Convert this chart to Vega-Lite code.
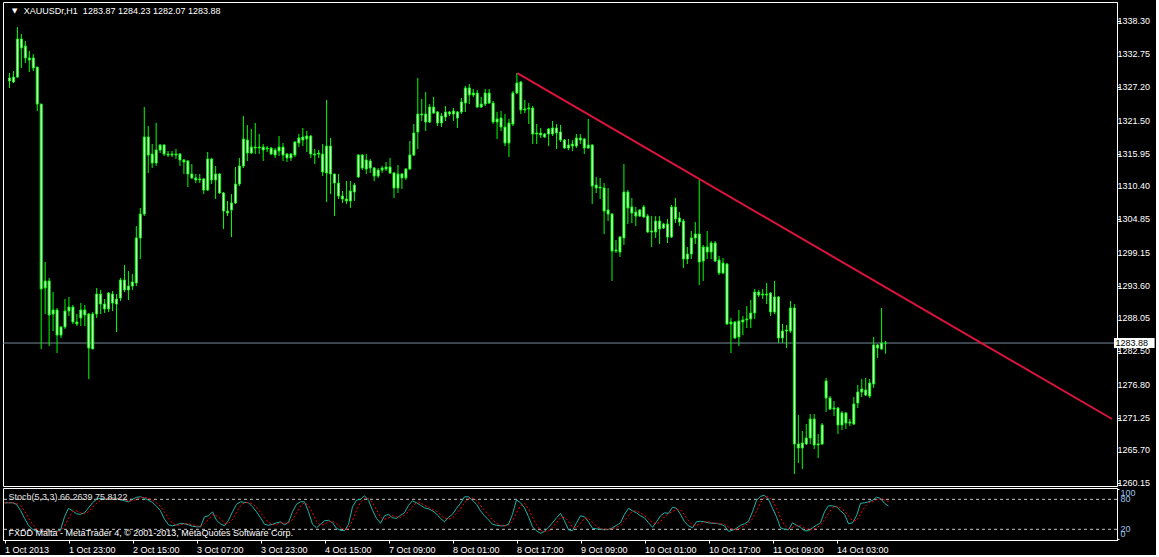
{
"$schema":"https://vega.github.io/schema/vega-lite/v6.json",
"background":"#000000",
"padding":{"left":2,"top":1,"right":0,"bottom":0},
"spacing":2,
"bounds":"flush",
"config":{
"view":{"stroke":"#ffffff","strokeWidth":1,"fill":"#000000"},
"axis":{"grid":false,"labelFont":"Liberation Sans","labelFontSize":9,"labelColor":"#ffffff","tickColor":"#ffffff","domainColor":"#ffffff","tickSize":3,"title":null},
"text":{"font":"Liberation Sans","fontSize":9}
},
"datasets":{
"one":[{}],
"pticks":[{"v":1338.30},{"v":1332.75},{"v":1327.20},{"v":1321.50},{"v":1315.95},{"v":1310.40},{"v":1304.85},{"v":1299.15},{"v":1293.60},{"v":1288.05},{"v":1282.50},{"v":1276.80},{"v":1271.25},{"v":1265.70},{"v":1260.15}],
"trend":[{"i":128.1,"p":1329.58},{"i":278.125,"p":1271.02}],
"levels":[{"lv":20},{"lv":80}],
"bars":[
{"i":0,"o":1328.74,"h":1329.58,"l":1327.05,"c":1328.23,"k":73,"d":73},
{"i":1,"o":1328.06,"h":1329.92,"l":1327.89,"c":1328.90,"k":73,"d":73},
{"i":2,"o":1328.90,"h":1337.36,"l":1328.74,"c":1335.34,"k":73,"d":73},
{"i":3,"o":1335.34,"h":1336.18,"l":1330.43,"c":1333.82,"k":70,"d":72},
{"i":4,"o":1334.15,"h":1335.00,"l":1331.27,"c":1332.13,"k":58,"d":67},
{"i":5,"o":1332.13,"h":1333.31,"l":1329.75,"c":1331.79,"k":42,"d":57},
{"i":6,"o":1332.13,"h":1332.80,"l":1329.92,"c":1330.43,"k":28,"d":43},
{"i":7,"o":1330.59,"h":1330.59,"l":1323.15,"c":1324.33,"k":20,"d":30},
{"i":8,"o":1324.33,"h":1324.33,"l":1282.87,"c":1293.03,"k":16,"d":21},
{"i":9,"o":1293.20,"h":1297.59,"l":1288.79,"c":1294.38,"k":15,"d":17},
{"i":10,"o":1294.38,"h":1294.89,"l":1283.37,"c":1288.62,"k":16,"d":16},
{"i":11,"o":1288.79,"h":1292.51,"l":1285.91,"c":1289.47,"k":17,"d":16},
{"i":12,"o":1289.47,"h":1289.81,"l":1282.19,"c":1285.23,"k":15,"d":16},
{"i":13,"o":1285.23,"h":1286.76,"l":1284.73,"c":1286.59,"k":16,"d":16},
{"i":14,"o":1286.59,"h":1291.33,"l":1286.26,"c":1289.30,"k":18,"d":16},
{"i":15,"o":1289.30,"h":1291.66,"l":1288.45,"c":1289.97,"k":45,"d":26},
{"i":16,"o":1289.97,"h":1290.31,"l":1287.10,"c":1287.44,"k":62,"d":42},
{"i":17,"o":1287.44,"h":1288.79,"l":1286.76,"c":1287.10,"k":57,"d":55},
{"i":18,"o":1288.12,"h":1290.65,"l":1286.76,"c":1289.47,"k":51,"d":57},
{"i":19,"o":1289.47,"h":1290.31,"l":1286.76,"c":1288.62,"k":50,"d":53},
{"i":20,"o":1288.79,"h":1288.96,"l":1277.79,"c":1283.04,"k":53,"d":51},
{"i":21,"o":1282.87,"h":1289.13,"l":1282.87,"c":1288.79,"k":63,"d":55},
{"i":22,"o":1288.79,"h":1293.20,"l":1288.12,"c":1292.17,"k":73,"d":63},
{"i":23,"o":1292.17,"h":1292.86,"l":1288.79,"c":1290.48,"k":80,"d":72},
{"i":24,"o":1290.48,"h":1291.33,"l":1288.96,"c":1289.64,"k":82,"d":78},
{"i":25,"o":1289.64,"h":1292.51,"l":1289.13,"c":1292.34,"k":80,"d":81},
{"i":26,"o":1292.17,"h":1292.68,"l":1289.30,"c":1290.65,"k":82,"d":81},
{"i":27,"o":1290.48,"h":1292.17,"l":1285.74,"c":1291.33,"k":83,"d":82},
{"i":28,"o":1291.50,"h":1294.89,"l":1290.99,"c":1294.55,"k":82,"d":82},
{"i":29,"o":1294.55,"h":1297.08,"l":1292.51,"c":1292.86,"k":79,"d":81},
{"i":30,"o":1292.86,"h":1296.07,"l":1291.16,"c":1293.53,"k":77,"d":79},
{"i":31,"o":1293.53,"h":1295.56,"l":1292.86,"c":1294.21,"k":75,"d":77},
{"i":32,"o":1294.04,"h":1303.68,"l":1293.53,"c":1301.66,"k":80,"d":77},
{"i":33,"o":1301.66,"h":1306.74,"l":1298.10,"c":1305.71,"k":84,"d":80},
{"i":34,"o":1305.71,"h":1323.82,"l":1305.37,"c":1318.75,"k":85,"d":83},
{"i":35,"o":1318.75,"h":1320.61,"l":1312.66,"c":1315.70,"k":82,"d":84},
{"i":36,"o":1315.87,"h":1317.56,"l":1313.50,"c":1314.35,"k":78,"d":82},
{"i":37,"o":1314.35,"h":1321.12,"l":1313.84,"c":1316.55,"k":74,"d":78},
{"i":38,"o":1316.55,"h":1317.56,"l":1316.04,"c":1317.39,"k":66,"d":73},
{"i":39,"o":1317.39,"h":1317.56,"l":1315.53,"c":1315.87,"k":57,"d":66},
{"i":40,"o":1315.87,"h":1316.38,"l":1315.36,"c":1315.70,"k":40,"d":54},
{"i":41,"o":1315.70,"h":1316.38,"l":1315.36,"c":1315.87,"k":29,"d":42},
{"i":42,"o":1315.87,"h":1316.72,"l":1315.03,"c":1315.70,"k":27,"d":32},
{"i":43,"o":1315.87,"h":1316.04,"l":1313.84,"c":1314.86,"k":29,"d":28},
{"i":44,"o":1314.86,"h":1315.03,"l":1312.49,"c":1314.52,"k":32,"d":29},
{"i":45,"o":1314.69,"h":1314.86,"l":1310.29,"c":1312.49,"k":31,"d":31},
{"i":46,"o":1312.49,"h":1314.18,"l":1311.65,"c":1311.82,"k":29,"d":31},
{"i":47,"o":1311.82,"h":1312.49,"l":1310.96,"c":1311.48,"k":26,"d":29},
{"i":48,"o":1311.65,"h":1312.49,"l":1310.96,"c":1311.48,"k":25,"d":27},
{"i":49,"o":1311.65,"h":1311.82,"l":1309.10,"c":1309.78,"k":25,"d":25},
{"i":50,"o":1309.78,"h":1316.21,"l":1309.61,"c":1315.03,"k":45,"d":32},
{"i":51,"o":1315.03,"h":1315.20,"l":1310.79,"c":1311.48,"k":47,"d":39},
{"i":52,"o":1311.48,"h":1313.84,"l":1308.26,"c":1312.49,"k":55,"d":49},
{"i":53,"o":1312.49,"h":1312.66,"l":1309.10,"c":1309.27,"k":38,"d":47},
{"i":54,"o":1309.27,"h":1309.44,"l":1303.18,"c":1306.22,"k":31,"d":41},
{"i":55,"o":1306.22,"h":1307.92,"l":1305.37,"c":1305.88,"k":27,"d":32},
{"i":56,"o":1306.40,"h":1309.10,"l":1301.82,"c":1307.58,"k":38,"d":32},
{"i":57,"o":1307.58,"h":1313.67,"l":1307.41,"c":1310.79,"k":55,"d":40},
{"i":58,"o":1310.79,"h":1315.20,"l":1310.45,"c":1313.84,"k":70,"d":54},
{"i":59,"o":1313.84,"h":1322.30,"l":1313.50,"c":1318.41,"k":75,"d":67},
{"i":60,"o":1318.24,"h":1320.78,"l":1314.69,"c":1316.04,"k":74,"d":73},
{"i":61,"o":1316.04,"h":1320.11,"l":1315.87,"c":1317.05,"k":73,"d":74},
{"i":62,"o":1317.05,"h":1321.12,"l":1315.87,"c":1316.89,"k":65,"d":71},
{"i":63,"o":1316.89,"h":1319.26,"l":1315.87,"c":1317.05,"k":55,"d":64},
{"i":64,"o":1317.05,"h":1317.56,"l":1314.69,"c":1316.55,"k":43,"d":54},
{"i":65,"o":1316.72,"h":1317.22,"l":1316.21,"c":1316.89,"k":30,"d":43},
{"i":66,"o":1316.89,"h":1317.05,"l":1315.70,"c":1315.87,"k":28,"d":34},
{"i":67,"o":1315.70,"h":1316.89,"l":1315.20,"c":1316.55,"k":30,"d":29},
{"i":68,"o":1316.38,"h":1318.92,"l":1315.53,"c":1317.05,"k":33,"d":30},
{"i":69,"o":1317.05,"h":1317.73,"l":1314.69,"c":1315.70,"k":35,"d":33},
{"i":70,"o":1315.87,"h":1316.04,"l":1314.52,"c":1315.20,"k":29,"d":32},
{"i":71,"o":1315.20,"h":1316.04,"l":1314.69,"c":1315.87,"k":34,"d":33},
{"i":72,"o":1315.70,"h":1318.07,"l":1315.36,"c":1317.90,"k":55,"d":39},
{"i":73,"o":1317.73,"h":1319.26,"l":1317.05,"c":1318.58,"k":70,"d":53},
{"i":74,"o":1318.24,"h":1320.28,"l":1317.22,"c":1318.75,"k":75,"d":67},
{"i":75,"o":1318.41,"h":1319.77,"l":1316.21,"c":1318.92,"k":75,"d":73},
{"i":76,"o":1318.92,"h":1319.09,"l":1315.20,"c":1315.87,"k":55,"d":68},
{"i":77,"o":1315.87,"h":1316.72,"l":1314.18,"c":1315.70,"k":30,"d":53},
{"i":78,"o":1315.87,"h":1316.55,"l":1315.20,"c":1316.04,"k":23,"d":36},
{"i":79,"o":1315.87,"h":1317.56,"l":1312.15,"c":1312.83,"k":30,"d":28},
{"i":80,"o":1312.66,"h":1325.02,"l":1307.75,"c":1317.22,"k":37,"d":30},
{"i":81,"o":1317.22,"h":1318.58,"l":1309.10,"c":1312.49,"k":38,"d":35},
{"i":82,"o":1312.49,"h":1312.49,"l":1305.37,"c":1310.96,"k":33,"d":36},
{"i":83,"o":1310.96,"h":1312.49,"l":1308.26,"c":1308.76,"k":22,"d":31},
{"i":84,"o":1308.76,"h":1309.61,"l":1307.58,"c":1308.26,"k":18,"d":24},
{"i":85,"o":1308.26,"h":1311.30,"l":1307.41,"c":1307.92,"k":17,"d":19},
{"i":86,"o":1307.92,"h":1311.30,"l":1306.74,"c":1309.61,"k":30,"d":22},
{"i":87,"o":1309.44,"h":1310.96,"l":1307.92,"c":1310.62,"k":65,"d":37},
{"i":88,"o":1311.98,"h":1315.87,"l":1311.82,"c":1315.70,"k":78,"d":58},
{"i":89,"o":1315.70,"h":1315.87,"l":1313.16,"c":1313.50,"k":80,"d":74},
{"i":90,"o":1313.33,"h":1315.87,"l":1312.49,"c":1314.86,"k":87,"d":82},
{"i":91,"o":1314.69,"h":1315.03,"l":1312.66,"c":1313.50,"k":78,"d":82},
{"i":92,"o":1313.50,"h":1313.67,"l":1311.30,"c":1312.15,"k":58,"d":74},
{"i":93,"o":1312.15,"h":1313.50,"l":1311.82,"c":1313.16,"k":42,"d":59},
{"i":94,"o":1313.16,"h":1313.84,"l":1312.66,"c":1313.50,"k":32,"d":44},
{"i":95,"o":1313.33,"h":1314.52,"l":1313.00,"c":1313.67,"k":47,"d":40},
{"i":96,"o":1313.67,"h":1315.20,"l":1312.49,"c":1312.66,"k":50,"d":43},
{"i":97,"o":1312.66,"h":1312.83,"l":1308.42,"c":1310.12,"k":43,"d":47},
{"i":98,"o":1310.12,"h":1314.01,"l":1309.27,"c":1312.49,"k":42,"d":45},
{"i":99,"o":1312.49,"h":1312.66,"l":1309.95,"c":1311.82,"k":48,"d":44},
{"i":100,"o":1311.82,"h":1313.50,"l":1311.48,"c":1313.33,"k":53,"d":48},
{"i":101,"o":1313.33,"h":1318.07,"l":1313.16,"c":1315.70,"k":68,"d":56},
{"i":102,"o":1315.70,"h":1320.95,"l":1315.53,"c":1319.43,"k":77,"d":66},
{"i":103,"o":1319.60,"h":1328.74,"l":1316.72,"c":1322.64,"k":73,"d":73},
{"i":104,"o":1322.64,"h":1325.19,"l":1321.46,"c":1322.47,"k":68,"d":73},
{"i":105,"o":1322.64,"h":1326.37,"l":1319.77,"c":1321.29,"k":63,"d":68},
{"i":106,"o":1321.29,"h":1324.33,"l":1321.12,"c":1323.82,"k":61,"d":64},
{"i":107,"o":1323.82,"h":1325.53,"l":1322.64,"c":1322.81,"k":57,"d":60},
{"i":108,"o":1322.98,"h":1323.15,"l":1320.61,"c":1321.12,"k":51,"d":56},
{"i":109,"o":1321.12,"h":1322.81,"l":1320.44,"c":1322.30,"k":42,"d":50},
{"i":110,"o":1322.13,"h":1324.00,"l":1321.46,"c":1322.98,"k":35,"d":43},
{"i":111,"o":1322.98,"h":1323.15,"l":1322.30,"c":1322.64,"k":44,"d":40},
{"i":112,"o":1322.64,"h":1323.66,"l":1321.46,"c":1323.15,"k":50,"d":43},
{"i":113,"o":1322.98,"h":1323.15,"l":1320.27,"c":1321.96,"k":62,"d":52},
{"i":114,"o":1322.98,"h":1325.36,"l":1322.64,"c":1324.67,"k":72,"d":61},
{"i":115,"o":1324.50,"h":1327.38,"l":1322.98,"c":1327.05,"k":85,"d":73},
{"i":116,"o":1327.05,"h":1327.72,"l":1324.33,"c":1325.86,"k":85,"d":81},
{"i":117,"o":1325.86,"h":1326.89,"l":1325.53,"c":1326.20,"k":78,"d":83},
{"i":118,"o":1326.20,"h":1326.72,"l":1323.66,"c":1323.82,"k":70,"d":78},
{"i":119,"o":1323.82,"h":1325.53,"l":1323.66,"c":1324.33,"k":57,"d":68},
{"i":120,"o":1324.33,"h":1326.89,"l":1324.00,"c":1326.20,"k":47,"d":58},
{"i":121,"o":1326.20,"h":1326.89,"l":1324.33,"c":1324.50,"k":39,"d":48},
{"i":122,"o":1324.50,"h":1324.84,"l":1320.95,"c":1321.29,"k":30,"d":39},
{"i":123,"o":1321.29,"h":1322.98,"l":1318.41,"c":1321.80,"k":28,"d":32},
{"i":124,"o":1321.97,"h":1323.15,"l":1319.77,"c":1320.44,"k":27,"d":28},
{"i":125,"o":1320.44,"h":1322.64,"l":1317.22,"c":1317.73,"k":27,"d":27},
{"i":126,"o":1317.73,"h":1321.80,"l":1315.36,"c":1321.12,"k":30,"d":28},
{"i":127,"o":1320.95,"h":1326.54,"l":1320.61,"c":1326.20,"k":50,"d":36},
{"i":128,"o":1326.20,"h":1329.58,"l":1326.03,"c":1327.89,"k":79,"d":53},
{"i":129,"o":1328.06,"h":1328.23,"l":1322.64,"c":1323.32,"k":73,"d":67},
{"i":130,"o":1323.32,"h":1325.02,"l":1322.81,"c":1323.49,"k":63,"d":72},
{"i":131,"o":1323.49,"h":1324.50,"l":1320.95,"c":1323.66,"k":45,"d":60},
{"i":132,"o":1323.66,"h":1324.00,"l":1317.56,"c":1319.26,"k":25,"d":44},
{"i":133,"o":1319.26,"h":1320.95,"l":1317.56,"c":1319.43,"k":17,"d":29},
{"i":134,"o":1319.43,"h":1320.28,"l":1318.58,"c":1319.09,"k":12,"d":18},
{"i":135,"o":1319.26,"h":1319.43,"l":1318.58,"c":1318.75,"k":16,"d":15},
{"i":136,"o":1319.26,"h":1320.28,"l":1317.22,"c":1320.11,"k":24,"d":17},
{"i":137,"o":1320.28,"h":1321.46,"l":1318.92,"c":1319.26,"k":33,"d":24},
{"i":138,"o":1319.43,"h":1320.95,"l":1316.72,"c":1320.28,"k":43,"d":33},
{"i":139,"o":1319.60,"h":1320.78,"l":1317.90,"c":1318.24,"k":52,"d":43},
{"i":140,"o":1318.24,"h":1318.41,"l":1316.72,"c":1316.89,"k":37,"d":44},
{"i":141,"o":1316.89,"h":1318.41,"l":1316.55,"c":1317.39,"k":19,"d":36},
{"i":142,"o":1317.22,"h":1318.24,"l":1316.38,"c":1317.56,"k":17,"d":24},
{"i":143,"o":1317.22,"h":1319.26,"l":1316.89,"c":1318.58,"k":33,"d":23},
{"i":144,"o":1318.58,"h":1319.26,"l":1317.56,"c":1318.24,"k":47,"d":32},
{"i":145,"o":1318.41,"h":1318.58,"l":1315.87,"c":1316.89,"k":45,"d":42},
{"i":146,"o":1316.89,"h":1321.80,"l":1316.72,"c":1317.39,"k":35,"d":42},
{"i":147,"o":1317.39,"h":1317.56,"l":1307.41,"c":1310.45,"k":22,"d":34},
{"i":148,"o":1310.62,"h":1311.98,"l":1309.27,"c":1310.12,"k":21,"d":26},
{"i":149,"o":1310.28,"h":1311.82,"l":1308.26,"c":1310.12,"k":20,"d":21},
{"i":150,"o":1310.12,"h":1310.96,"l":1302.33,"c":1306.22,"k":19,"d":20},
{"i":151,"o":1306.40,"h":1310.12,"l":1304.53,"c":1305.71,"k":20,"d":20},
{"i":152,"o":1305.71,"h":1305.88,"l":1294.38,"c":1299.45,"k":23,"d":21},
{"i":153,"o":1299.45,"h":1301.32,"l":1299.11,"c":1299.62,"k":28,"d":24},
{"i":154,"o":1299.28,"h":1301.99,"l":1298.44,"c":1301.82,"k":33,"d":28},
{"i":155,"o":1301.66,"h":1314.18,"l":1300.47,"c":1309.44,"k":50,"d":37},
{"i":156,"o":1309.44,"h":1309.78,"l":1304.02,"c":1306.74,"k":62,"d":48},
{"i":157,"o":1306.91,"h":1308.42,"l":1304.19,"c":1305.88,"k":57,"d":56},
{"i":158,"o":1306.05,"h":1306.91,"l":1303.69,"c":1305.37,"k":53,"d":57},
{"i":159,"o":1305.37,"h":1306.57,"l":1305.21,"c":1306.40,"k":47,"d":52},
{"i":160,"o":1306.91,"h":1307.24,"l":1305.04,"c":1305.21,"k":43,"d":48},
{"i":161,"o":1305.37,"h":1305.71,"l":1302.50,"c":1302.67,"k":33,"d":41},
{"i":162,"o":1302.67,"h":1305.37,"l":1300.13,"c":1302.84,"k":24,"d":33},
{"i":163,"o":1302.67,"h":1305.37,"l":1301.66,"c":1304.53,"k":35,"d":31},
{"i":164,"o":1304.53,"h":1305.37,"l":1300.64,"c":1303.18,"k":47,"d":35},
{"i":165,"o":1303.35,"h":1304.19,"l":1303.18,"c":1304.02,"k":53,"d":45},
{"i":166,"o":1304.02,"h":1304.87,"l":1300.81,"c":1301.82,"k":52,"d":51},
{"i":167,"o":1301.82,"h":1307.24,"l":1301.66,"c":1306.91,"k":64,"d":56},
{"i":168,"o":1306.91,"h":1308.42,"l":1304.19,"c":1304.87,"k":62,"d":59},
{"i":169,"o":1305.04,"h":1306.05,"l":1303.69,"c":1304.36,"k":50,"d":59},
{"i":170,"o":1304.53,"h":1304.87,"l":1296.58,"c":1298.10,"k":35,"d":49},
{"i":171,"o":1298.10,"h":1300.13,"l":1297.25,"c":1298.94,"k":27,"d":37},
{"i":172,"o":1298.94,"h":1302.84,"l":1298.10,"c":1301.66,"k":23,"d":28},
{"i":173,"o":1301.66,"h":1304.36,"l":1300.64,"c":1302.33,"k":35,"d":28},
{"i":174,"o":1302.33,"h":1311.47,"l":1293.70,"c":1297.59,"k":36,"d":31},
{"i":175,"o":1297.76,"h":1300.47,"l":1294.38,"c":1300.13,"k":35,"d":35},
{"i":176,"o":1300.13,"h":1302.84,"l":1298.10,"c":1299.28,"k":33,"d":35},
{"i":177,"o":1299.28,"h":1301.15,"l":1298.10,"c":1300.81,"k":32,"d":33},
{"i":178,"o":1300.81,"h":1301.15,"l":1297.59,"c":1297.76,"k":32,"d":32},
{"i":179,"o":1297.93,"h":1298.61,"l":1295.39,"c":1295.73,"k":30,"d":31},
{"i":180,"o":1295.73,"h":1298.27,"l":1295.56,"c":1297.42,"k":27,"d":30},
{"i":181,"o":1297.25,"h":1297.42,"l":1286.93,"c":1287.10,"k":16,"d":24},
{"i":182,"o":1287.10,"h":1288.12,"l":1282.19,"c":1287.44,"k":18,"d":20},
{"i":183,"o":1287.44,"h":1287.61,"l":1284.56,"c":1284.73,"k":22,"d":19},
{"i":184,"o":1284.90,"h":1289.47,"l":1283.37,"c":1287.61,"k":28,"d":23},
{"i":185,"o":1287.44,"h":1288.45,"l":1285.23,"c":1287.78,"k":31,"d":27},
{"i":186,"o":1287.78,"h":1290.14,"l":1286.42,"c":1287.95,"k":36,"d":32},
{"i":187,"o":1287.95,"h":1291.16,"l":1286.42,"c":1288.96,"k":55,"d":41},
{"i":188,"o":1288.96,"h":1293.03,"l":1287.95,"c":1292.51,"k":78,"d":56},
{"i":189,"o":1292.51,"h":1292.86,"l":1291.66,"c":1292.00,"k":86,"d":73},
{"i":190,"o":1292.00,"h":1293.03,"l":1291.33,"c":1292.17,"k":88,"d":84},
{"i":191,"o":1292.17,"h":1294.04,"l":1290.48,"c":1292.00,"k":80,"d":85},
{"i":192,"o":1292.34,"h":1292.51,"l":1288.45,"c":1289.13,"k":62,"d":77},
{"i":193,"o":1289.13,"h":1294.38,"l":1288.79,"c":1291.66,"k":45,"d":62},
{"i":194,"o":1291.66,"h":1291.83,"l":1283.88,"c":1284.73,"k":23,"d":43},
{"i":195,"o":1284.73,"h":1287.10,"l":1283.88,"c":1285.91,"k":20,"d":29},
{"i":196,"o":1285.91,"h":1286.93,"l":1283.04,"c":1286.08,"k":19,"d":21},
{"i":197,"o":1285.91,"h":1290.99,"l":1285.57,"c":1289.81,"k":33,"d":24},
{"i":198,"o":1289.81,"h":1290.48,"l":1261.71,"c":1266.79,"k":28,"d":27},
{"i":199,"o":1266.79,"h":1271.69,"l":1263.57,"c":1266.11,"k":24,"d":28},
{"i":200,"o":1266.11,"h":1268.99,"l":1262.55,"c":1266.96,"k":17,"d":23},
{"i":201,"o":1266.79,"h":1270.17,"l":1266.62,"c":1267.80,"k":17,"d":19},
{"i":202,"o":1267.80,"h":1271.87,"l":1266.79,"c":1271.02,"k":23,"d":19},
{"i":203,"o":1271.02,"h":1271.87,"l":1265.94,"c":1266.62,"k":28,"d":23},
{"i":204,"o":1266.62,"h":1268.48,"l":1264.41,"c":1266.79,"k":33,"d":28},
{"i":205,"o":1266.79,"h":1270.34,"l":1266.62,"c":1270.00,"k":55,"d":39},
{"i":206,"o":1277.45,"h":1277.96,"l":1272.20,"c":1274.57,"k":67,"d":52},
{"i":207,"o":1274.57,"h":1274.91,"l":1272.54,"c":1272.71,"k":67,"d":63},
{"i":208,"o":1272.71,"h":1274.07,"l":1271.53,"c":1272.88,"k":65,"d":66},
{"i":209,"o":1272.88,"h":1273.05,"l":1268.48,"c":1270.00,"k":57,"d":63},
{"i":210,"o":1270.00,"h":1272.37,"l":1269.16,"c":1272.04,"k":50,"d":57},
{"i":211,"o":1272.04,"h":1272.20,"l":1269.33,"c":1270.34,"k":31,"d":46},
{"i":212,"o":1270.34,"h":1271.02,"l":1269.83,"c":1270.51,"k":33,"d":38},
{"i":213,"o":1270.17,"h":1274.74,"l":1270.00,"c":1273.56,"k":47,"d":37},
{"i":214,"o":1273.73,"h":1276.77,"l":1272.88,"c":1275.59,"k":72,"d":51},
{"i":215,"o":1275.59,"h":1277.79,"l":1274.74,"c":1276.10,"k":73,"d":64},
{"i":216,"o":1275.93,"h":1277.96,"l":1274.91,"c":1275.08,"k":75,"d":73},
{"i":217,"o":1274.91,"h":1277.79,"l":1274.57,"c":1277.11,"k":78,"d":75},
{"i":218,"o":1276.94,"h":1284.90,"l":1276.27,"c":1283.54,"k":84,"d":79},
{"i":219,"o":1283.54,"h":1283.71,"l":1281.34,"c":1283.04,"k":82,"d":81},
{"i":220,"o":1282.87,"h":1289.81,"l":1282.70,"c":1283.88,"k":72,"d":79},
{"i":221,"o":1283.87,"h":1284.23,"l":1282.07,"c":1283.88,"k":66.26,"d":75.81}
]
},
"vconcat":[
{
"width":1114,"height":484,
"layer":[
{"data":{"name":"one"},"mark":{"type":"rule","color":"#778899","strokeWidth":1},
 "encoding":{
  "y":{"datum":1283.88,"type":"quantitative","scale":{"domain":[1259.68,1341.60],"nice":false,"zero":false},
   "axis":{"orient":"right","values":[1338.30,1332.75,1327.20,1321.50,1315.95,1310.40,1304.85,1299.15,1293.60,1288.05,1282.50,1276.80,1271.25,1265.70,1260.15],"labels":false}}}},
{"data":{"name":"bars"},"mark":{"type":"rule","color":"#00ff00","strokeWidth":1},
 "encoding":{
  "x":{"field":"i","type":"quantitative","scale":{"domain":[-0.375,278.125],"nice":false,"zero":false},"axis":null},
  "y":{"field":"l","type":"quantitative"},
  "y2":{"field":"h"}}},
{"data":{"name":"bars"},"mark":{"type":"bar","width":2,"fill":"#ffffff","stroke":"#00ff00","strokeWidth":1},
 "encoding":{
  "x":{"field":"i","type":"quantitative"},
  "y":{"field":"o","type":"quantitative"},
  "y2":{"field":"c"}}},
{"data":{"name":"trend"},"mark":{"type":"line","color":"#dc143c","strokeWidth":2,"clip":true},
 "encoding":{
  "x":{"field":"i","type":"quantitative"},
  "y":{"field":"p","type":"quantitative"}}},
{"data":{"name":"pticks"},"mark":{"type":"text","color":"#ffffff","align":"left","baseline":"middle","fontSize":9},
 "encoding":{
  "x":{"datum":279.5,"type":"quantitative"},
  "y":{"field":"v","type":"quantitative"},
  "text":{"field":"v","type":"quantitative","format":".2f"}}},
{"data":{"name":"one"},"mark":{"type":"rect","fill":"#ffffff"},
 "encoding":{
  "x":{"datum":278.625,"type":"quantitative"},"x2":{"datum":288.875},
  "y":{"datum":1284.73,"type":"quantitative"},"y2":{"datum":1283.04}}},
{"data":{"name":"one"},"mark":{"type":"text","text":"1283.88","color":"#000000","align":"left","baseline":"middle","fontSize":9},
 "encoding":{
  "x":{"datum":279.0,"type":"quantitative"},
  "y":{"datum":1283.88,"type":"quantitative"}}},
{"data":{"name":"one"},"mark":{"type":"text","text":"▼","color":"#ffffff","align":"left","baseline":"middle","fontSize":7,"font":"DejaVu Sans"},
 "encoding":{
  "x":{"datum":0.625,"type":"quantitative"},
  "y":{"datum":1340.08,"type":"quantitative"}}},
{"data":{"name":"one"},"mark":{"type":"text","text":"XAUUSDr,H1\u00a0\u00a01283.87 1284.23 1282.07 1283.88","color":"#ffffff","align":"left","baseline":"middle","fontSize":9},
 "encoding":{
  "x":{"datum":3.625,"type":"quantitative"},
  "y":{"datum":1340.08,"type":"quantitative"}}}
]
},
{
"width":1114,"height":52,
"layer":[
{"data":{"name":"levels"},"mark":{"type":"rule","color":"#c8c8c8","strokeWidth":1,"strokeDash":[3,3]},
 "encoding":{
  "y":{"field":"lv","type":"quantitative","scale":{"domain":[-1.4,102.6],"nice":false,"zero":false},
   "axis":{"orient":"right","values":[0,20,80,100],"labels":false,"tickSize":2}}}},
{"data":{"name":"bars"},"mark":{"type":"line","color":"#20b2aa","strokeWidth":1},
 "encoding":{
  "x":{"field":"i","type":"quantitative","scale":{"domain":[-0.375,278.125],"nice":false,"zero":false},
   "axis":{"orient":"bottom","values":[0,16,32,48,64,80,96,112,128,144,160,176,192,208],
    "labelExpr":"['1 Oct 2013','1 Oct 23:00','2 Oct 15:00','3 Oct 07:00','3 Oct 23:00','4 Oct 15:00','7 Oct 09:00','8 Oct 01:00','8 Oct 17:00','9 Oct 09:00','10 Oct 01:00','10 Oct 17:00','11 Oct 09:00','14 Oct 03:00'][round(datum.value/16)]",
    "labelAlign":"left","labelPadding":2,"tickSize":3,"labelBound":false,"labelFlush":false,"labelOverlap":false}},
  "y":{"field":"k","type":"quantitative"}}},
{"data":{"name":"bars"},"mark":{"type":"line","color":"#ff0000","strokeWidth":1,"strokeDash":[2,2]},
 "encoding":{
  "x":{"field":"i","type":"quantitative"},
  "y":{"field":"d","type":"quantitative"}}},
{"data":{"name":"one"},"mark":{"type":"text","text":"100","color":"#9ec5ee","align":"left","baseline":"top","fontSize":9},
 "encoding":{"x":{"datum":279.0,"type":"quantitative"},"y":{"datum":100,"type":"quantitative"}}},
{"data":{"name":"one"},"mark":{"type":"text","text":"80","color":"#9ec5ee","align":"left","baseline":"middle","fontSize":9},
 "encoding":{"x":{"datum":279.0,"type":"quantitative"},"y":{"datum":80,"type":"quantitative"}}},
{"data":{"name":"one"},"mark":{"type":"text","text":"20","color":"#9ec5ee","align":"left","baseline":"middle","fontSize":9},
 "encoding":{"x":{"datum":279.0,"type":"quantitative"},"y":{"datum":20,"type":"quantitative"}}},
{"data":{"name":"one"},"mark":{"type":"text","text":"0","color":"#9ec5ee","align":"left","baseline":"bottom","fontSize":9},
 "encoding":{"x":{"datum":279.0,"type":"quantitative"},"y":{"datum":0,"type":"quantitative"}}},
{"data":{"name":"one"},"mark":{"type":"text","text":"Stoch(5,3,3) 66.2639 75.8122","color":"#e0e0e0","align":"left","baseline":"middle","fontSize":9},
 "encoding":{
  "x":{"datum":1,"type":"quantitative"},
  "y":{"datum":84.6,"type":"quantitative"}}},
{"data":{"name":"one"},"mark":{"type":"text","text":"FXDD Malta - MetaTrader 4, © 2001-2013, MetaQuotes Software Corp.","color":"#ffffff","align":"left","baseline":"middle","fontSize":9},
 "encoding":{
  "x":{"datum":1,"type":"quantitative"},
  "y":{"datum":12.6,"type":"quantitative"}}}
]
}
]
}
